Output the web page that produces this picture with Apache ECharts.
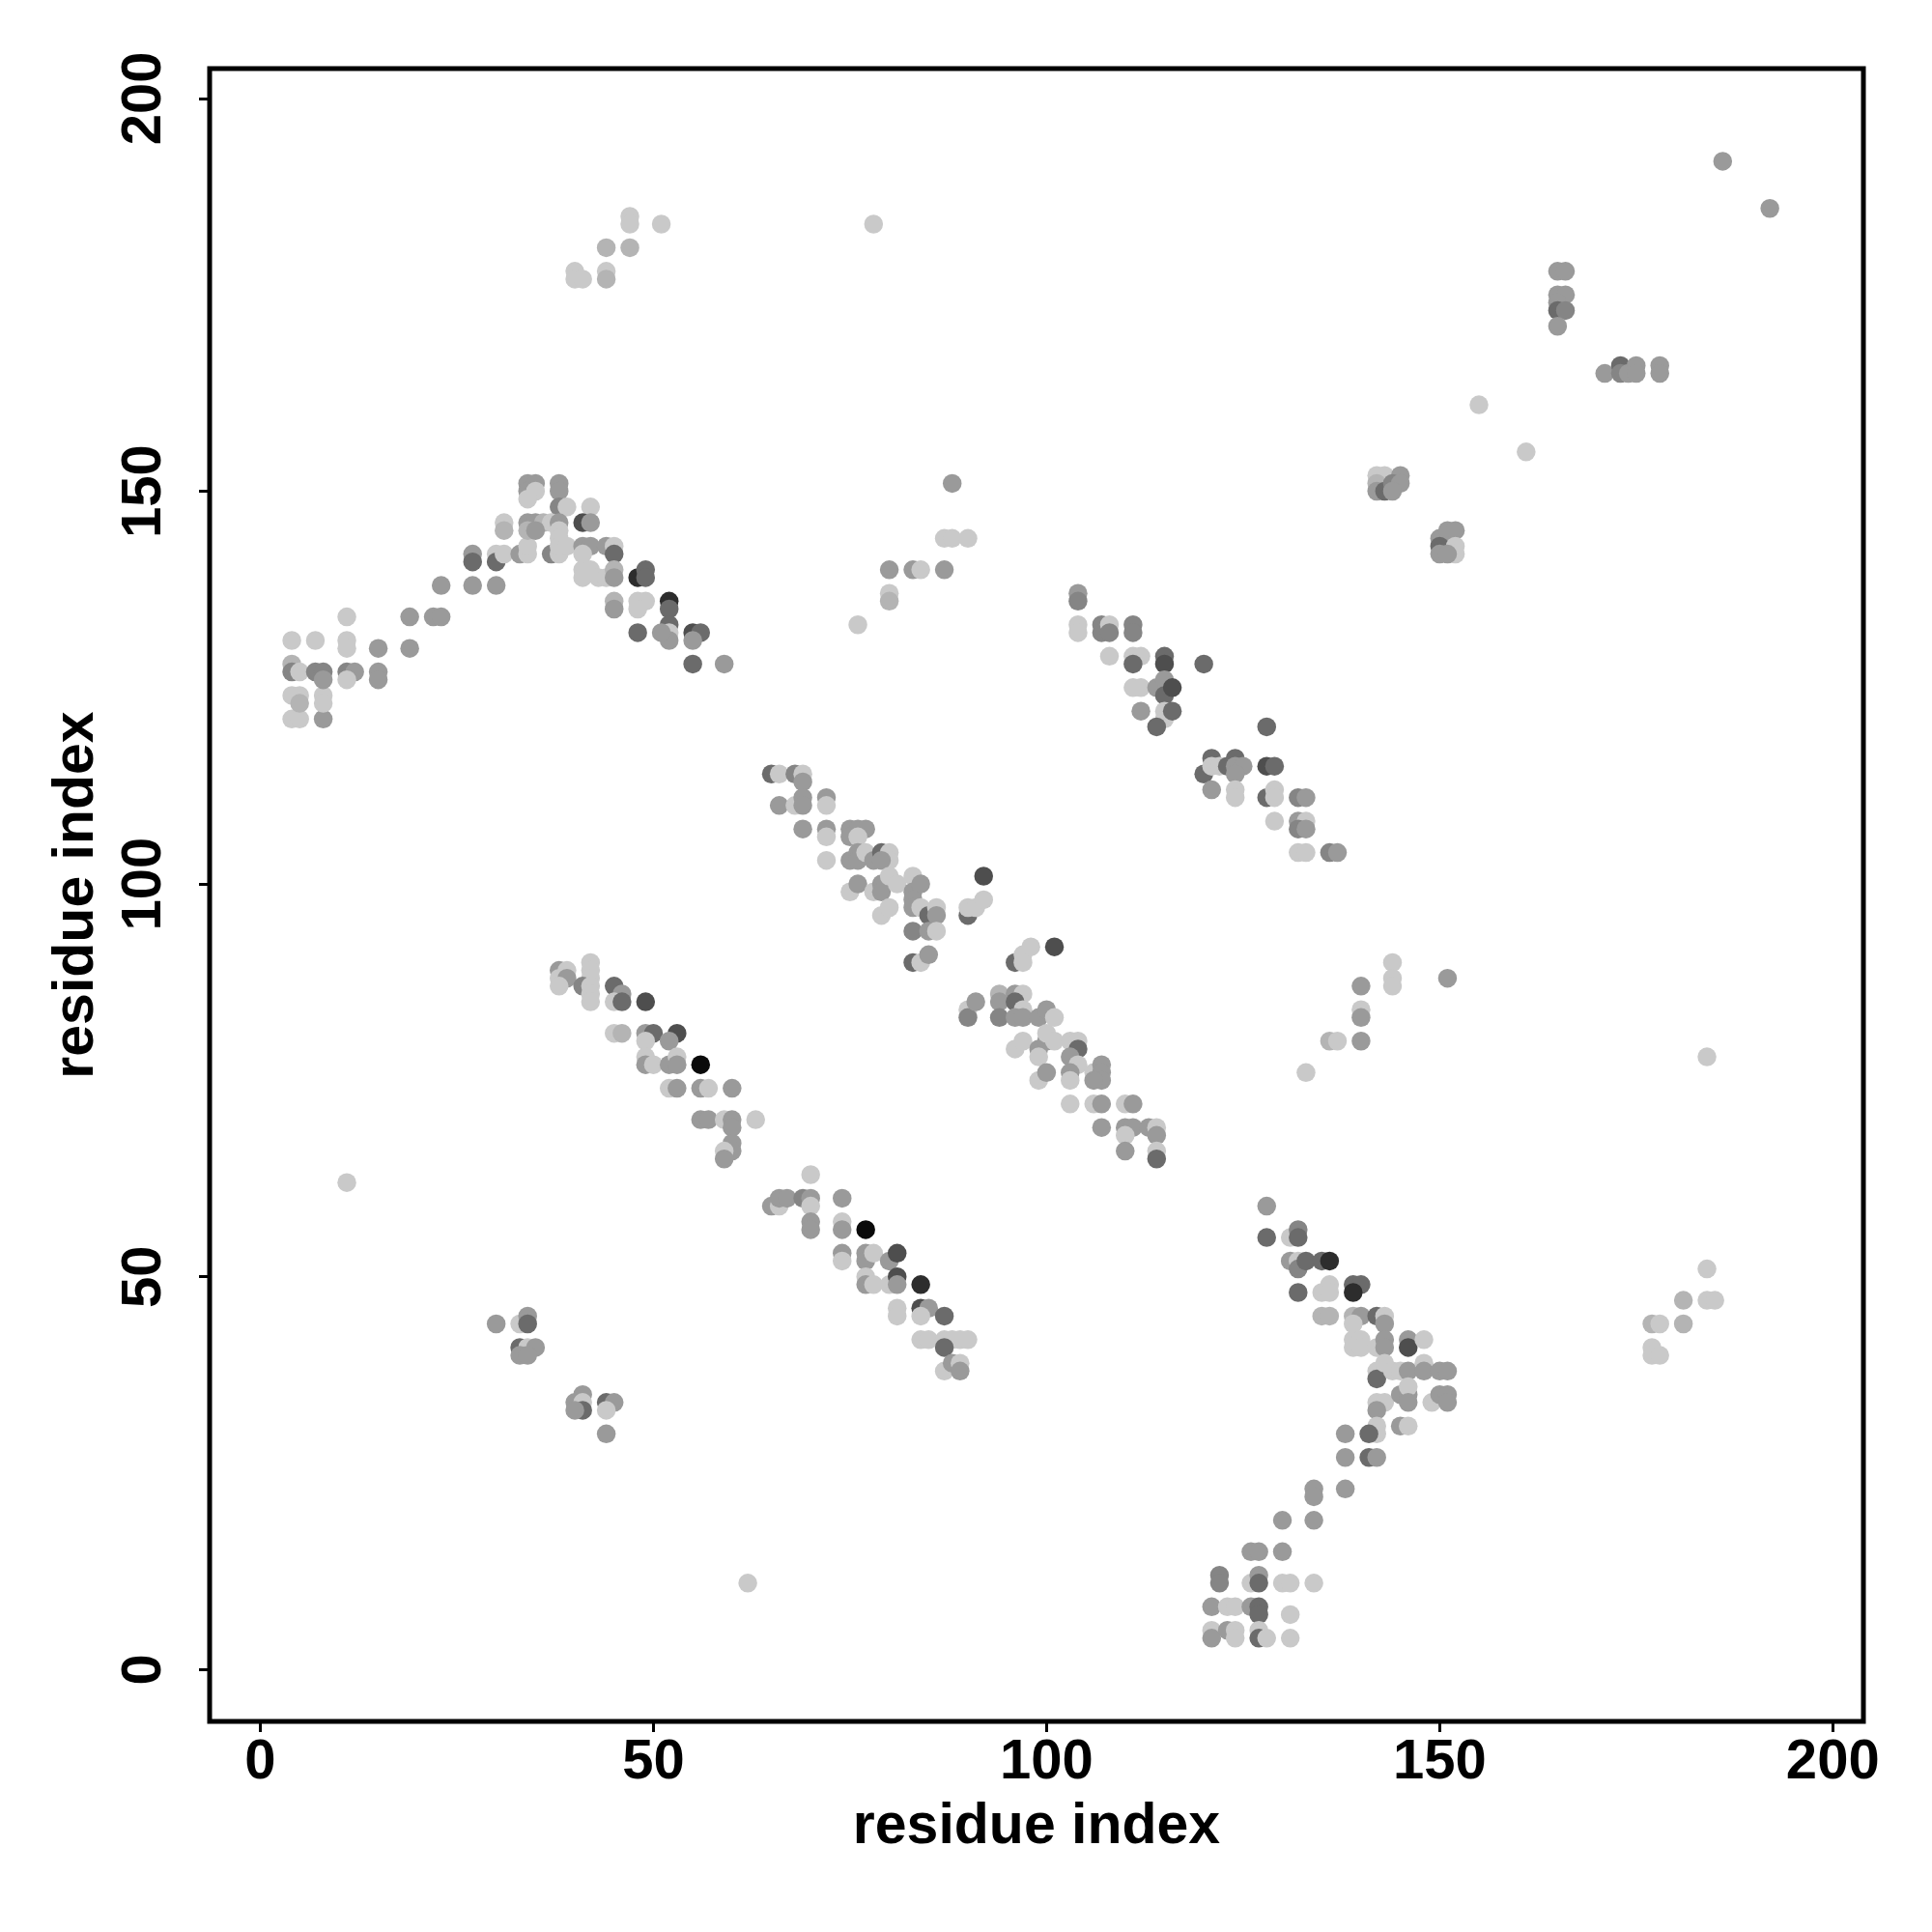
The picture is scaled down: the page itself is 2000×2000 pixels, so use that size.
<!DOCTYPE html>
<html>
<head>
<meta charset="utf-8">
<script src="https://cdn.jsdelivr.net/npm/echarts@6/dist/echarts.min.js"></script>
<style>html,body{margin:0;padding:0;background:#fff}#c{width:2000px;height:2000px}</style>
</head>
<body>
<div id="c"></div>
<script>
// shade levels (0 = light grey, 1 = black)
const L = 0.02, LG = 0.12, G = 0.25, GD = 0.35, D = 0.48, VD = 0.62, K = 0.78, B = 0.95;

const tickValues = [0, 50, 100, 150, 200];
const axisTitleX = 'residue index';
const axisTitleY = 'residue index';

// [residue i, residue j, shade]
const clusterTopLeft = [
 [4,121,L],[5,121,L],[8,121,G],
 [4,124,L],[5,124,L],[5,123,LG],[8,124,L],[8,123,L],
 [4,128,LG],[4,127,GD],[5,127,L],[7,127,GD],[8,127,GD],[8,126,G],[11,127,GD],[12,127,G],[11,126,L],[15,127,G],[15,126,G],
 [4,131,L],[7,131,L],[11,131,L],[11,130,L],[15,130,G],[19,130,G],
 [11,134,L],[19,134,G],[22,134,G],[23,134,G],
 [23,138,G],[27,138,G],[30,138,G],
 [27,142,G],[27,141,D],[30,142,L],[30,141,D],[31,142,L],[31,146,L],[31,145,LG],
 [33,142,G],[34,142,L],[34,143,L],
 [34,151,G],[35,151,G],[34,150,G],[35,150,L],[34,149,L],[38,151,G],[38,150,G],
 [38,148,GD],[39,148,L],[42,148,L],
 [41,146,VD],[42,146,G],
 [34,146,G],[35,146,G],[36,146,LG],[37,146,L],[38,146,G],[34,145,LG],[35,145,G],[38,145,L],[38,144,L],
 [37,142,GD],[38,142,L],[38,143,L],[39,143,L],
 [41,143,G],[42,143,G],[41,142,L],[44,143,G],[45,143,L],[45,142,D],
 [41,140,L],[42,140,L],[43,139,L],[41,139,L],[44,139,L],[45,140,LG],[45,139,G],
 [48,139,K],[49,140,D],[49,139,D],
 [45,136,LG],[45,135,G],[48,136,L],[49,136,L],[48,135,L],
 [52,136,K],[52,135,D],[52,133,D],[52,132,L],[52,131,G],[51,132,G],[48,132,D],
 [55,132,VD],[56,132,D],[55,131,G],
 [55,128,D],[59,128,G]
];

const clusterTop = [
 [47,185,L],[47,184,L],[51,184,L],[44,181,LG],[47,181,LG],[40,178,L],[40,177,L],[41,177,L],[44,178,L],[44,177,LG],[78,184,L]
];

const clusterMidTop = [
 [88,151,G],[87,144,L],[88,144,L],[90,144,L],[80,140,G],[83,140,G],[84,140,L],[87,140,G],[80,137,L],[80,136,LG],[76,133,L]
];

const clusterUpperRight = [
 [104,137,G],[104,136,GD],[104,133,L],[104,132,L],[107,133,GD],[107,132,GD],[108,133,L],[108,132,GD],[111,133,GD],[111,132,GD],
 [108,129,L],[111,129,L],[112,129,L],[111,128,D],[115,129,D],[115,128,VD],[120,128,D],
 [111,125,L],[112,125,L],[114,125,G],[115,126,G],[115,124,D],[116,125,VD],
 [112,122,G],[115,122,L],[115,121,L],[116,122,D],[114,120,D],[128,120,D],
 [121,116,D],[124,116,D],[120,114,D],[121,115,L],[122,115,L],[123,115,D],[124,115,G],[125,115,G],[128,115,VD],[129,115,D],[124,114,G],
 [121,112,G],[124,112,L],[124,111,L],[128,111,D],[129,112,L],[129,111,L],[132,111,GD],[133,111,G],
 [129,108,L],[132,108,G],[133,108,L],[132,107,GD],[133,107,G],
 [132,104,L],[133,104,L],[136,104,GD],[137,104,G]
];

const clusterTopRight = [
 [186,192,G],[192,186,G],[165,178,G],[166,178,G],[165,175,G],[166,175,G],[165,174,G],[165,173,D],[166,173,GD],[165,171,G],
 [171,165,G],[173,166,D],[173,165,GD],[174,165,G],[175,166,G],[175,165,G],[178,166,G],[178,165,G],
 [155,161,L],[161,155,L],
 [142,152,L],[143,152,L],[145,152,G],[142,151,LG],[142,150,G],[143,150,D],[144,151,GD],[145,151,G],[144,150,G],
 [150,144,G],[151,145,G],[152,145,G],[150,143,D],[152,143,L],[150,142,G],[152,142,L],[151,142,G]
];

const clusterMiddle = [
 [65,114,D],[66,114,L],[68,114,GD],[69,114,L],[69,113,G],
 [66,110,G],[68,110,L],[69,111,G],[69,110,G],[72,111,G],[72,110,L],
 [69,107,G],[72,107,G],[72,106,L],[75,107,G],[76,107,G],[77,107,G],[75,106,G],[76,106,L],
 [72,103,L],[75,103,G],[76,104,G],[76,103,G],[77,104,L],[78,103,G],[79,104,D],[80,104,L],[80,103,L],[79,103,G],
 [75,99,L],[76,100,G],[78,99,L],[79,100,G],[79,99,G],[80,101,L],[81,100,L],[79,96,L],[80,97,L],
 [83,101,L],[83,99,G],[84,100,G],[83,98,G],[83,97,G],[84,97,L],[85,96,D],[86,97,L],[86,96,G],[83,94,GD],[85,94,G],[86,94,L],
 [83,90,D],[84,90,L],[85,91,G],
 [90,96,D],[90,97,L],[91,97,L],[92,98,L],[92,101,VD]
];

const clusterMidRight = [
 [96,90,D],[97,91,L],[97,90,L],[98,92,L],[101,92,VD],
 [90,84,L],[90,83,GD],[91,85,G],
 [94,86,LG],[94,85,G],[94,83,GD],[96,86,G],[97,86,L],[96,85,D],[97,84,L],[96,83,G],[97,83,G],
 [99,83,G],[100,84,G],[101,83,L],
 [96,79,L],[97,80,L],[99,79,G],[100,80,G],[100,81,L],[101,80,L],[99,78,L],
 [99,75,L],[100,76,G],[103,80,L],[104,80,L],[104,79,D],[103,78,G],[104,77,L],[103,76,G],[103,75,L],
 [106,76,L],[107,77,G],[107,76,G],[107,75,G],[106,75,G],
 [103,72,L],[106,72,L],[107,72,G],[110,72,L],[111,72,G],
 [107,69,G],[110,69,G],[111,69,G],[110,68,L],[113,69,G],[114,69,L],[114,68,G],[110,66,G],[114,66,L],[114,65,D]
];

const clusterMidLeft = [
 [38,89,G],[39,89,L],[38,88,L],[39,88,G],[38,87,L],
 [42,90,L],[42,89,L],[42,88,L],[41,87,GD],[42,87,L],[42,86,L],[42,85,L],
 [45,87,D],[46,86,G],[45,85,L],[46,85,D],
 [49,85,VD],
 [45,81,L],[46,81,LG],[49,81,G],[50,81,D],[49,80,L],[53,81,VD],[52,80,G],
 [49,78,L],[49,77,G],[50,77,L],[52,77,G],[53,78,L],[53,77,G],
 [56,77,B],
 [52,74,L],[53,74,G],[56,74,G],[57,74,L],[60,74,G],
 [56,70,G],[57,70,G],[59,70,L],[60,70,G],[60,69,G],[63,70,L],
 [60,67,G],[60,66,G],[59,66,L],[59,65,G]
];

const clusterLowMid = [
 [70,63,L],
 [65,59,G],[66,59,L],[66,60,G],[67,60,G],[69,60,GD],[70,60,G],[70,59,L],
 [70,57,G],[70,56,G],[74,60,G],[74,57,L],[74,56,G],
 [77,56,B],
 [74,53,G],[74,52,L],[77,53,G],[77,52,G],[78,53,L],[80,52,G],[81,53,VD],
 [77,50,L],[77,49,G],[78,49,L],[80,49,L],[81,50,VD],[81,49,G],
 [84,49,K],
 [81,46,L],[81,45,L],[84,46,VD],[85,46,G],[84,45,L],[87,45,D],
 [84,42,L],[85,42,L],[87,42,L],[88,42,L],[89,42,L],[90,42,L],[87,41,D],
 [87,38,L],[88,39,G],[89,39,L],[89,38,G]
];

const clusterVUpper = [
 [128,59,G],[128,55,D],[131,55,L],[132,56,GD],[132,55,D],
 [131,52,G],[132,52,L],[132,51,GD],[133,52,D],[135,52,D],[136,52,K],
 [132,48,D],[135,48,L],[136,49,L],[136,48,L],[139,49,D],[140,49,D],[139,48,K],
 [135,45,LG],[136,45,LG],[139,45,LG],[140,45,G],[139,44,L],[142,45,D],[143,45,L],[143,44,G],
 [139,42,L],[140,42,L],[139,41,L],[140,41,L],[142,41,L],[143,42,G],[143,41,G],[146,42,G],[146,41,VD],[148,42,L],
 [142,38,L],[142,37,D],[143,39,L],[144,38,L],[145,38,L],[146,38,G],[148,39,L],[148,38,G],[150,38,G],[151,38,G],
 [142,34,L],[143,34,L],[142,33,G],[145,35,G],[146,35,G],[146,36,L],[146,34,G],[149,34,L],[150,35,G],[151,35,G],[151,34,G],
 [142,31,L],[142,30,L],[141,30,D],[145,31,G],[146,31,L],
 [138,30,G],[138,27,G],[141,27,D],[142,27,G]
];

const clusterVLower = [
 [134,23,G],[134,22,G],[138,23,G],
 [130,19,G],[134,19,G],
 [126,15,G],[127,15,G],[130,15,G],
 [122,12,GD],[122,11,GD],[126,11,L],[127,12,G],[127,11,D],[130,11,L],[131,11,L],[134,11,L],
 [121,8,G],[123,8,L],[124,8,L],[126,8,G],[127,8,D],[127,7,D],[131,7,L],
 [121,5,L],[121,4,G],[123,5,G],[124,5,L],[124,4,L],[127,5,L],[127,4,D],[128,4,L],[131,4,L]
];

const clusterLowLeft = [
 [11,62,L],[30,44,G],[33,44,L],[34,45,G],[34,44,D],[33,41,D],[34,41,L],[35,41,G],[33,40,G],[34,40,G],
 [40,34,G],[41,35,G],[41,34,L],[41,33,D],[40,33,G],[44,34,D],[45,34,G],[44,33,L],[44,30,G],[62,11,L]
];

const clusterRight = [
 [144,90,L],[144,88,L],[144,87,L],[151,88,G],[140,87,G],[140,84,L],[140,83,G],[136,80,LG],[137,80,L],[140,80,G],[133,76,L],
 [184,78,L],[184,51,L],[181,47,LG],[184,47,L],[185,47,L],[177,44,LG],[178,44,L],[181,44,LG],[177,41,L],[177,40,L],[178,40,L]
];

const allPoints = [].concat(
  clusterTopLeft, clusterTop, clusterMidTop, clusterUpperRight, clusterTopRight,
  clusterMiddle, clusterMidRight, clusterMidLeft, clusterLowMid, clusterVUpper,
  clusterVLower, clusterLowLeft, clusterRight
);

const FONT = '"Liberation Sans", Arial, Helvetica, sans-serif';
const chart = echarts.init(document.getElementById('c'), null, {renderer: 'canvas'});
chart.setOption({
  animation: false,
  backgroundColor: '#ffffff',
  grid: {
    show: true, left: 217, top: 71, width: 1712, height: 1711,
    borderColor: '#000', borderWidth: 5, backgroundColor: 'transparent'
  },
  visualMap: {
    show: false, type: 'continuous', dimension: 2, min: 0, max: 1,
    inRange: { color: ['#cdcdcd', '#000000'] }
  },
  xAxis: {
    type: 'value', min: -6.45, max: 203.9,
    name: axisTitleX, nameLocation: 'middle', nameGap: 80,
    nameTextStyle: { fontFamily: FONT, fontWeight: 'bold', fontSize: 59, color: '#000' },
    axisLine: { show: false, onZero: false },
    splitLine: { show: false },
    axisTick: { show: true, length: 11, lineStyle: { color: '#000', width: 3 }, customValues: tickValues },
    axisLabel: { show: true, margin: 14, fontFamily: FONT, fontWeight: 'bold', fontSize: 58, color: '#000', customValues: tickValues }
  },
  yAxis: {
    type: 'value', min: -6.6, max: 203.8,
    name: axisTitleY, nameLocation: 'middle', nameGap: 108, nameRotate: 90,
    nameTextStyle: { fontFamily: FONT, fontWeight: 'bold', fontSize: 59, color: '#000' },
    axisLine: { show: false, onZero: false },
    splitLine: { show: false },
    axisTick: { show: true, length: 11, lineStyle: { color: '#000', width: 3 }, customValues: tickValues },
    axisLabel: { show: true, margin: 38, rotate: 90, align: 'center', verticalAlign: 'bottom',
      fontFamily: FONT, fontWeight: 'bold', fontSize: 58, color: '#000', customValues: tickValues }
  },
  series: [{
    type: 'scatter',
    symbol: 'circle',
    symbolSize: 19.5,
    data: allPoints,
    itemStyle: { opacity: 1 }
  }]
});
</script>
</body>
</html>
